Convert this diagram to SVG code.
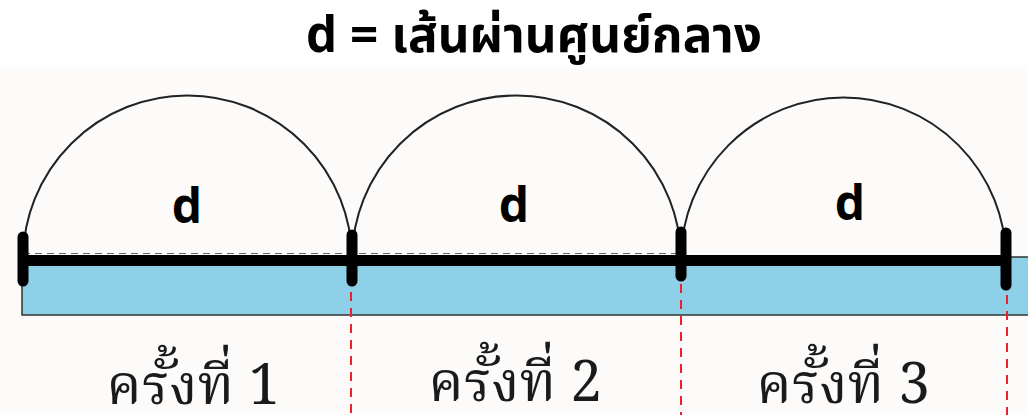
<svg xmlns="http://www.w3.org/2000/svg" width="1028" height="415" viewBox="0 0 1028 415">
<style>
.title{font-family:"Noto Sans Thai","Noto Sans","DejaVu Sans",sans-serif;font-weight:700;font-size:50px;fill:#000}
.d{font-family:"Open Sans","Noto Sans",sans-serif;font-weight:700;font-size:48px;fill:#000}
.lbl{font-family:"Noto Serif Thai","Liberation Serif","Noto Sans Thai",serif;font-size:56px;fill:#1a1a1a}
.arc{fill:none;stroke:#222;stroke-width:2}
.tick{stroke:#000;stroke-width:11;stroke-linecap:round}
.red{stroke:#e8232e;stroke-width:2;stroke-dasharray:9 7}
</style>
<rect x="0" y="0" width="1028" height="415" fill="#fcfbf9"/>
<rect x="0" y="0" width="1028" height="65" fill="#ffffff"/>
<text class="title" x="534" y="52" text-anchor="middle" textLength="456" lengthAdjust="spacingAndGlyphs">d = เส้นผ่านศูนย์กลาง</text>
<g id="bar">
<rect x="22" y="257" width="1010" height="58" fill="#8dd0e8" stroke="#333" stroke-width="1.5"/>
</g>
<g id="connectors">
<line x1="23" y1="253.5" x2="681" y2="253.5" stroke="#666" stroke-width="1" stroke-dasharray="7 5"/>
<line x1="23" y1="260.5" x2="1006" y2="260.5" stroke="#000" stroke-width="11"/>
<line class="red" x1="351" y1="292" x2="351" y2="415"/>
<line class="red" x1="681" y1="284" x2="681" y2="415"/>
<line class="red" x1="1007" y1="295" x2="1007" y2="415"/>
</g>
<g id="arc1">
<path class="arc" d="M23 260 A164.5 164.5 0 0 1 352 260"/>
<text class="d" x="187" y="223" text-anchor="middle">d</text>
</g>
<g id="arc2">
<path class="arc" d="M352 260 A164.5 164.5 0 0 1 681 260"/>
<text class="d" x="514" y="222" text-anchor="middle">d</text>
</g>
<g id="arc3">
<path class="arc" d="M681 260 A162.5 162.5 0 0 1 1006 260"/>
<text class="d" x="850" y="220" text-anchor="middle">d</text>
</g>
<g id="ticks">
<line class="tick" x1="23" y1="237" x2="23" y2="281"/>
<line class="tick" x1="352" y1="235" x2="352" y2="281"/>
<line class="tick" x1="681" y1="232" x2="681" y2="276"/>
<line class="tick" x1="1006" y1="233" x2="1006" y2="285"/>
</g>
<g id="labels">
<text class="lbl" x="193" y="404" text-anchor="middle">ครั้งที่ 1</text>
<text class="lbl" x="515" y="401" text-anchor="middle">ครั้งที่ 2</text>
<text class="lbl" x="843" y="403" text-anchor="middle">ครั้งที่ 3</text>
</g>
</svg>
